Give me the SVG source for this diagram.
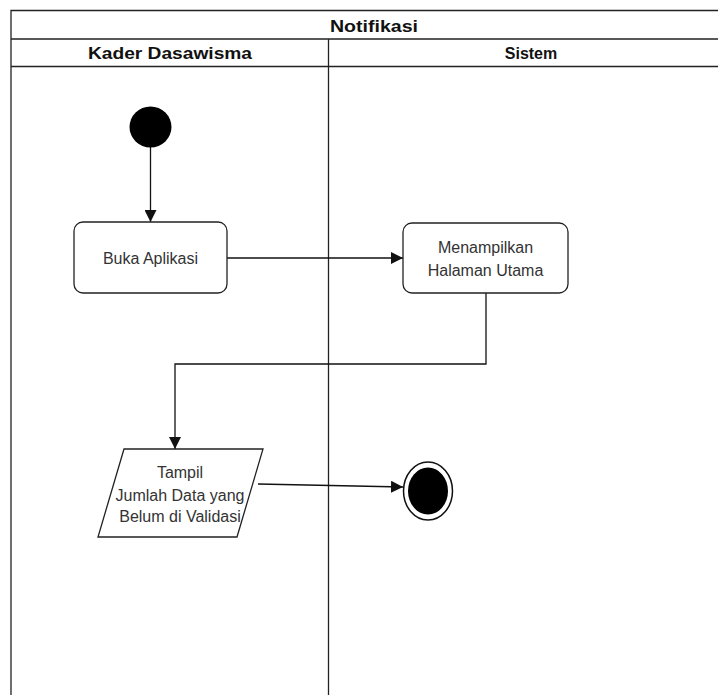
<svg xmlns="http://www.w3.org/2000/svg" width="718" height="695" viewBox="0 0 718 695">
<defs>
<style>
.lane{fill:none;stroke:#222;stroke-width:1.3}
.hdr{font-family:"Liberation Sans",Arial,sans-serif;font-weight:bold;font-size:16px;fill:#111;text-anchor:middle;dominant-baseline:central}
.box{fill:#fff;stroke:#222;stroke-width:1.3}
.lbl{font-family:"Liberation Sans",Arial,sans-serif;font-size:16px;fill:#333;text-anchor:middle;dominant-baseline:central}
.edge{fill:none;stroke:#111;stroke-width:1.3}
</style>
<marker id="arr" viewBox="0 0 12 12" refX="12" refY="6" markerWidth="12" markerHeight="12" markerUnits="userSpaceOnUse" orient="auto">
<path d="M0,0 L12,6 L0,12 Z" fill="#111"/>
</marker>
</defs>
<rect width="718" height="695" fill="#fff"/>
<g id="pool">
<path class="lane" d="M11,705 V10.5 H740"/>
<path class="lane" d="M11,39 H740 M11,66.5 H740 M328.5,39 V705"/>
<text class="hdr" x="374" y="26" textLength="88" lengthAdjust="spacingAndGlyphs">Notifikasi</text>
<text class="hdr" x="170" y="53" textLength="164" lengthAdjust="spacingAndGlyphs">Kader Dasawisma</text>
<text class="hdr" x="531" y="53">Sistem</text>
</g>
<g id="connectors">
<path class="edge" d="M150.5,147 V222" marker-end="url(#arr)"/>
<path class="edge" d="M227,258 H403" marker-end="url(#arr)"/>
<path class="edge" d="M486,293 V364 H175 V449" marker-end="url(#arr)"/>
<path class="edge" d="M258,484 L403,487" marker-end="url(#arr)"/>
</g>
<g id="start">
<ellipse cx="150.5" cy="127" rx="21" ry="20.5" fill="#000"/>
</g>
<g id="buka">
<rect class="box" x="74" y="222" width="153" height="71" rx="9"/>
<text class="lbl" x="150.5" y="258">Buka Aplikasi</text>
</g>
<g id="menampilkan">
<rect class="box" x="403" y="223" width="165" height="70" rx="9"/>
<text class="lbl" x="485.5" y="247">Menampilkan</text>
<text class="lbl" x="485.5" y="270">Halaman Utama</text>
</g>
<g id="tampil">
<polygon class="box" points="124,449 263,449 237,537 98,537"/>
<text class="lbl" x="180" y="472">Tampil</text>
<text class="lbl" x="180" y="495">Jumlah Data yang</text>
<text class="lbl" x="180" y="516">Belum di Validasi</text>
</g>
<g id="end">
<ellipse cx="428" cy="491" rx="24.5" ry="29" fill="#fff" stroke="#111" stroke-width="1.5"/>
<ellipse cx="428" cy="491" rx="20" ry="23.5" fill="#000"/>
</g>
</svg>
